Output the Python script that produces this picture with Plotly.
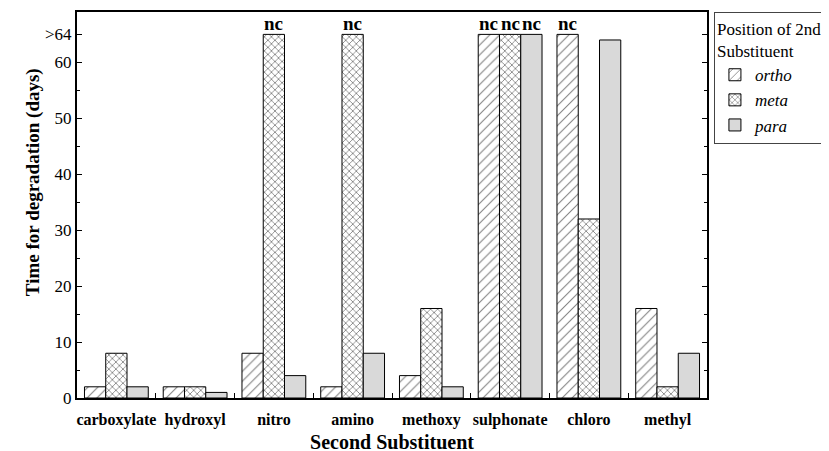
import plotly.graph_objects as go

categories = ["carboxylate", "hydroxyl", "nitro", "amino", "methoxy", "sulphonate", "chloro", "methyl"]
ortho = [2, 2, 8, 2, 4, 65, 65, 16]
meta = [8, 2, 65, 65, 16, 65, 32, 2]
para = [2, 1, 4, 8, 2, 65, 64, 8]
# "nc" = no complete degradation within 64 days (plotted as >64)
nc_ortho = [False, False, False, False, False, True, True, False]
nc_meta = [False, False, True, True, False, True, False, False]
nc_para = [False, False, False, False, False, True, False, False]
ytick_vals = [0, 10, 20, 30, 40, 50, 60, 65]
ytick_text = ["0", "10", "20", "30", "40", "50", "60", ">64"]

FONT = "Liberation Serif"
fig = go.Figure()
series = [
    ("<i>ortho</i>", ortho, dict(shape="/", fillmode="overlay", fgcolor="black", bgcolor="white", size=7, solidity=0.15)),
    ("<i>meta</i>", meta, dict(shape="x", fillmode="overlay", fgcolor="black", bgcolor="white", size=5, solidity=0.3)),
    ("<i>para</i>", para, None),
]
for name, vals, pat in series:
    marker = dict(color="#d9d9d9" if pat is None else "white",
                  line=dict(color="black", width=1))
    if pat is not None:
        marker["pattern"] = pat
    fig.add_trace(go.Bar(x=categories, y=vals, name=name, marker=marker))

bar_w = 0.81 / 3
annotations = []
for k, flags in enumerate([nc_ortho, nc_meta, nc_para]):
    vals = [ortho, meta, para][k]
    for i, f in enumerate(flags):
        if f:
            annotations.append(dict(x=i + (k - 1) * bar_w, y=vals[i], xref="x", yref="y",
                                    text="<b>nc</b>", showarrow=False, yanchor="bottom",
                                    font=dict(family=FONT, size=19, color="black"), yshift=-2))
annotations.append(dict(x=-0.09, y=0.56, xref="paper", yref="paper", textangle=-90,
                        text="<b>Time for degradation (days)</b>", showarrow=False,
                        font=dict(family=FONT, size=19, color="black")))

fig.update_layout(
    width=829, height=451,
    margin=dict(l=69, r=130, t=4, b=61),
    barmode="group", bargap=0.19, bargroupgap=0,
    plot_bgcolor="white", paper_bgcolor="white",
    font=dict(family=FONT, size=16, color="black"),
    annotations=annotations,
    legend=dict(x=1.011, y=1, xanchor="left", yanchor="top",
                bordercolor="#444", borderwidth=1, bgcolor="white",
                title=dict(text="Position of 2nd<br>Substituent", font=dict(family=FONT, size=17)),
                font=dict(family=FONT, size=17), tracegroupgap=0),
)
fig.update_xaxes(
    type="category", showline=True, linecolor="black", linewidth=2, mirror=True,
    ticks="inside", tickson="boundaries", ticklen=5, tickcolor="black", tickangle=0,
    tickfont=dict(family=FONT, size=16, weight="bold"), automargin=False, ticklabelstandoff=6,
    title=dict(text="<b>Second Substituent</b>", font=dict(family=FONT, size=20), standoff=7),
    showgrid=False,
)
fig.update_yaxes(
    range=[0, 69], showline=True, linecolor="black", linewidth=2, mirror="ticks",
    tickvals=ytick_vals, ticktext=ytick_text, ticks="inside", ticklen=5, tickcolor="black",
    tickfont=dict(family=FONT, size=17),
    minor=dict(tickvals=[5, 15, 25, 35, 45, 55], ticks="inside", ticklen=3, tickcolor="black"),
    automargin=False, showgrid=False, zeroline=False,
)
fig.write_html("out.html")
